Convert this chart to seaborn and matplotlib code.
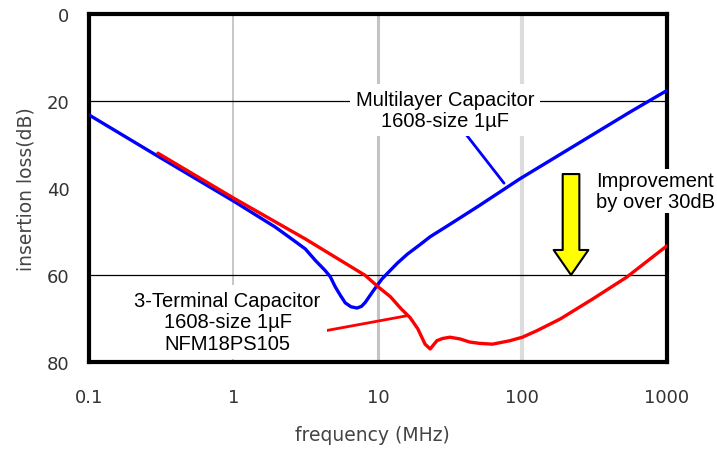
import matplotlib
matplotlib.use("Agg")
import matplotlib.pyplot as plt
from matplotlib.ticker import NullLocator
import seaborn as sns

# Multilayer capacitor, 1608-size 1uF (blue)
mlcc_freq = [0.1, 0.3, 1, 1.95, 2.6, 3.14, 3.7, 4.32, 4.68, 5.06, 5.5, 5.94, 6.5, 7.17, 7.7,
             8.17, 9.3, 10.67, 13.6, 16, 19.6, 23, 30, 50, 96, 251, 552, 1000]
mlcc_loss = [23.2, 32.7, 43.0, 49.0, 52.0, 54.0, 56.7, 59.0, 60.4, 62.7, 64.7, 66.4, 67.3, 67.6, 67.2,
             66.3, 63.6, 60.9, 57.3, 55.2, 53.0, 51.2, 48.8, 44.1, 37.9, 29.5, 22.6, 17.6]

# 3-terminal capacitor NFM18PS105 (red)
nfm_freq = [0.3, 1, 3.14, 8.17, 10.1, 12.2, 14.5, 16.7, 18.9, 21.2, 23, 25.6,
            28, 31.5, 37, 43, 50, 62, 82, 100, 126, 183, 307, 527, 1000]
nfm_loss = [32.0, 42.3, 51.7, 60.1, 62.8, 65.0, 67.8, 69.8, 72.4, 75.9, 77.0, 75.1,
            74.6, 74.3, 74.7, 75.4, 75.7, 75.9, 75.1, 74.3, 72.8, 70.1, 65.5, 60.5, 53.3]

x_ticks = [0.1, 1, 10, 100, 1000]
x_tick_labels = ["0.1", "1", "10", "100", "1000"]
y_ticks = [0, 20, 40, 60, 80]

sns.set_style("white")
plt.rcParams["font.family"] = ["DejaVu Sans"]

fig = plt.figure(figsize=(7.17, 4.52), dpi=100)
ax = fig.add_axes([0.1241, 0.1969, 0.806, 0.770])
ax.set_xscale("log")

# reference lines
ax.axvline(1, color="#bdbdbd", lw=1.2, zorder=1)
ax.axvline(10, color="#c4c4c4", lw=2.2, zorder=1)
ax.axvline(100, color="#dcdcdc", lw=3.0, zorder=1)
for yv in (20, 60):
    ax.axhline(yv, color="black", lw=0.9, zorder=1)

sns.lineplot(x=mlcc_freq, y=mlcc_loss, color="#0000ff", lw=2.4, sort=False, ax=ax, zorder=3)
sns.lineplot(x=nfm_freq, y=nfm_loss, color="#ff0000", lw=2.4, sort=False, ax=ax, zorder=3)

ax.set_xlim(0.1, 1000)
ax.set_ylim(80, 0)
ax.set_xticks(x_ticks, x_tick_labels)
ax.set_yticks(y_ticks)
ax.xaxis.set_minor_locator(NullLocator())
ax.tick_params(axis="x", length=0, pad=19, labelsize=13, labelcolor="#333333")
ax.tick_params(axis="y", length=0, pad=14, labelsize=13, labelcolor="#333333")

for spine in ax.spines.values():
    spine.set_visible(True)
    spine.set_color("black")
    spine.set_linewidth(3)

ax.set_xlabel("frequency (MHz)", fontsize=13.5, color="#444444")
ax.set_ylabel("insertion loss(dB)", fontsize=13.5, color="#444444")
ax.xaxis.set_label_coords(0.49, -0.18)
ax.yaxis.set_label_coords(-0.092, 0.5)

# callouts
ann_font = dict(family=["Liberation Sans", "DejaVu Sans"], fontsize=14.5, color="black")
box = dict(boxstyle="square,pad=0.3", fc="white", ec="none")
ax.text(29.2, 22, "Multilayer Capacitor\n1608-size 1\u00b5F", ha="center", va="center",
        multialignment="center", linespacing=1.15, bbox=box, zorder=4, **ann_font)
ax.plot([40.1, 74.6], [27.4, 38.9], color="#0000ff", lw=2, zorder=3)

ax.text(0.91, 70.8, "3-Terminal Capacitor\n1608-size 1\u00b5F\nNFM18PS105", ha="center",
        va="center", multialignment="center", linespacing=1.15, bbox=box, zorder=4, **ann_font)
ax.plot([4.19, 15.7], [72.9, 69.4], color="#ff0000", lw=2, zorder=3)

ax.text(322, 40.7, "Improvement\nby over 30dB", ha="left", va="center",
        multialignment="left", linespacing=1.15,
        bbox=dict(boxstyle="square,pad=0.1", fc="white", ec="none"), zorder=4, **ann_font)

ax.annotate("", xy=(217, 60), xytext=(217, 36.8),
            arrowprops=dict(arrowstyle="simple,head_length=1.8,head_width=2.5,tail_width=1.2",
                            mutation_scale=10, fc="#ffff00", ec="black", lw=1.5,
                            shrinkA=0, shrinkB=0),
            zorder=4)

fig.savefig("out.png", dpi=100)
